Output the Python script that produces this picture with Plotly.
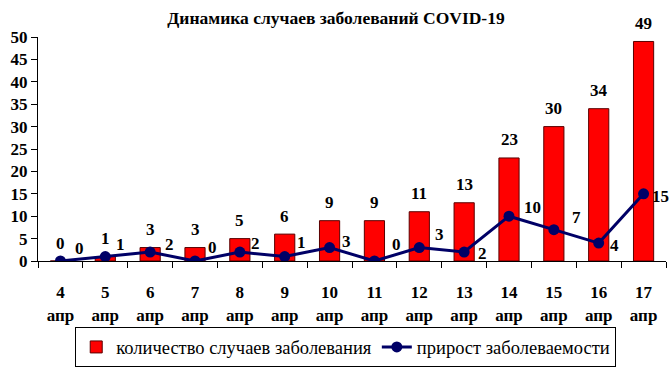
import plotly.graph_objects as go

days = ["4", "5", "6", "7", "8", "9", "10", "11", "12", "13", "14", "15", "16", "17"]
month = "апр"
cases = [0, 1, 3, 3, 5, 6, 9, 9, 11, 13, 23, 30, 34, 49]
growth = [0, 1, 2, 0, 2, 1, 3, 0, 3, 2, 10, 7, 4, 15]
cases_name = "количество случаев заболевания"
growth_name = "прирост заболеваемости"
title = "Динамика случаев заболеваний COVID-19"

# label offsets (pixels) for the growth labels, style only
growth_label_dy = [13, 12, 8, 14, 9, 14, 6, 17, 13, -1, 9, 12, -2, -3]
growth_label_dx = [19, 15, 19, 17, 16, 17, 17, 22, 20, 18, 23, 23, 16, 17]

cats = [f"{d}<br>{month}" for d in days]
FONT = "Liberation Serif"
LBL = dict(family=FONT, size=17, color="black", weight="bold")

fig = go.Figure()
fig.add_trace(go.Bar(
    x=cats, y=cases, name=cases_name,
    marker=dict(color="#FF0000", line=dict(color="#5a0000", width=1)),
))
fig.add_trace(go.Scatter(
    x=cats, y=growth, name=growth_name, mode="lines+markers",
    line=dict(color="#000066", width=3),
    marker=dict(color="#000066", size=11),
))
for c, v in zip(cats, cases):
    fig.add_annotation(x=c, y=v, text=str(v), showarrow=False, xanchor="center",
                       yanchor="middle", yshift=18, font=LBL)
for c, v, dx, dy in zip(cats, growth, growth_label_dx, growth_label_dy):
    fig.add_annotation(x=c, y=v, text=str(v), showarrow=False, xanchor="center",
                       yanchor="middle", xshift=dx, yshift=dy, font=LBL)

fig.update_layout(
    width=672, height=374,
    margin=dict(l=38, r=6, t=37, b=107),
    paper_bgcolor="white", plot_bgcolor="white",
    bargap=0.55,
    font=dict(family=FONT, color="black"),
    title=dict(text=title, x=0.5, xanchor="center", y=1 - 18 / 374, yanchor="middle",
               yref="container",
               font=dict(family=FONT, size=17.5, color="black", weight="bold")),
    legend=dict(orientation="h", x=0.49, xanchor="center", y=-0.475, yanchor="bottom",
                bordercolor="black", borderwidth=1,
                font=dict(family=FONT, size=18.5, color="black")),
    showlegend=True,
)
fig.update_xaxes(
    showline=True, linecolor="black", linewidth=1, automargin=False,
    ticks="outside", tickson="boundaries", ticklen=6, tickcolor="black",
    ticklabelstandoff=16,
    tickfont=dict(family=FONT, size=17, color="black", weight="bold"),
    range=[-0.5, 13.5], showgrid=False,
)
fig.update_yaxes(
    range=[0, 50], dtick=5, showline=True, linecolor="black", linewidth=1, automargin=False,
    ticks="outside", ticklen=6, tickcolor="black", showgrid=False, zeroline=False,
    tickfont=dict(family=FONT, size=17, color="black", weight="bold"),
)
fig.write_html("out.html", config={"displayModeBar": False},
               post_script="document.body.style.margin='0';document.body.style.padding='0';")
